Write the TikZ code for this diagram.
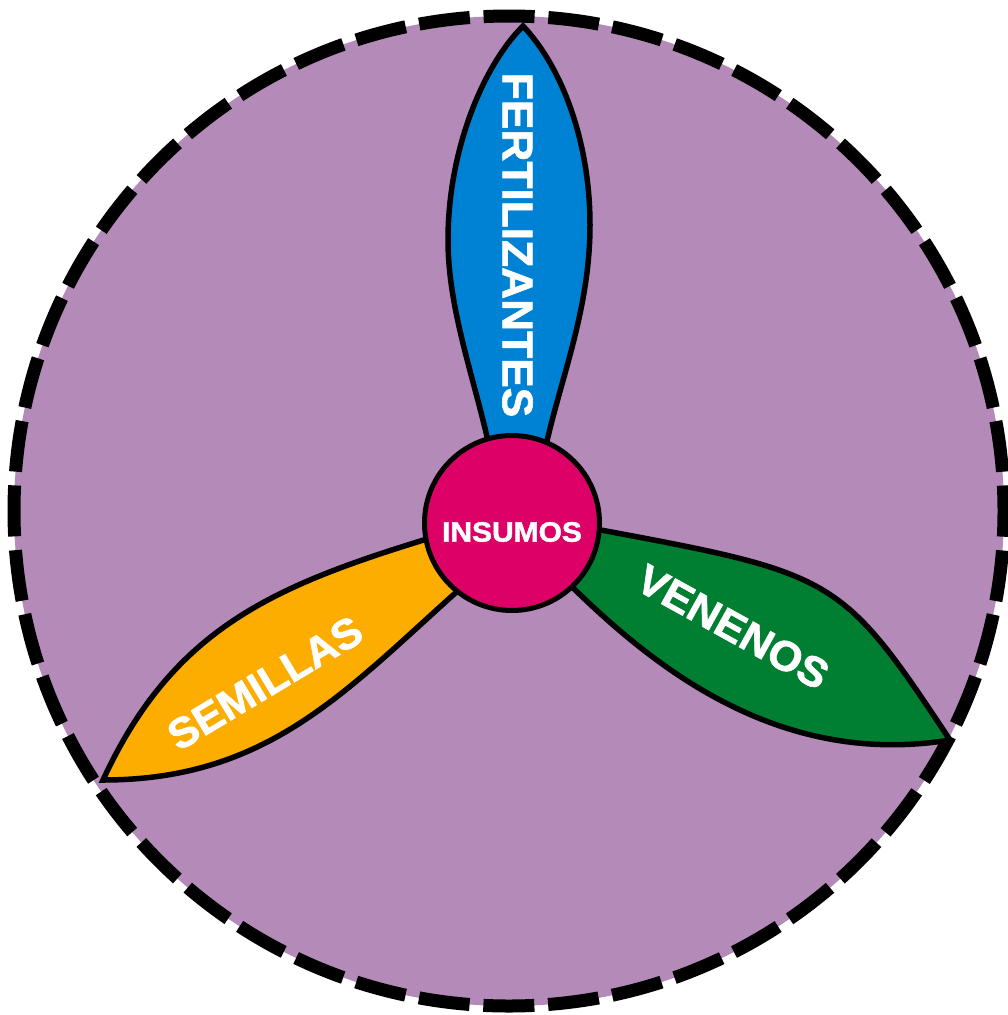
\documentclass[tikz,border=0pt]{standalone}
\usepackage{fontspec}
\setmainfont{Liberation Sans}
\newfontfamily\heavyfont{Liberation Sans}[BoldFeatures={FakeBold=1.5}]
\definecolor{bgpurple}{RGB}{180,139,184}
\definecolor{petalblue}{RGB}{0,130,212}
\definecolor{petalgreen}{RGB}{0,127,51}
\definecolor{petalorange}{RGB}{253,172,0}
\definecolor{hubmagenta}{RGB}{221,0,103}
\begin{document}
\begin{tikzpicture}[x=1pt,y=-1pt,
  petal/.style={draw=black, line width=5.5pt},
  lbl/.style={text=white, inner sep=0pt, font=\fontsize{42}{42}\selectfont\heavyfont\bfseries},
]
\useasboundingbox (0,0) rectangle (1008,1015);

% background disc with dashed rim
\fill[bgpurple] (509,511) circle[radius=495pt];
\draw[line width=13pt, dash pattern=on 51pt off 13.8pt, dash phase=25.5pt]
  (509,511) circle[radius=495pt];

% petals
\filldraw[petal, fill=petalblue]
  (490,450) .. controls (475,380) and (448,310) .. (448,240)
  .. controls (448,150) and (483,66) .. (523,26)
  .. controls (561,66) and (590,140) .. (590,225)
  .. controls (590,310) and (560,380) .. (545,450) -- cycle;
\filldraw[petal, fill=petalgreen]
  (590,528) .. controls (835.8,573.8) and (840,574) .. (950,740)
  .. controls (772.3,768.8) and (644.8,659.8) .. (560,575) -- cycle;
\filldraw[petal, fill=petalorange]
  (440,535) .. controls (277.3,584.3) and (174.4,625.3) .. (103,780)
  .. controls (273,780) and (350,685.6) .. (470,580) -- cycle;

% hub
\node[circle, draw=black, line width=5pt, fill=hubmagenta,
      minimum size=175pt, inner sep=0pt] (hub) at (512,523) {};
\node[lbl, font=\fontsize{28}{28}\selectfont\heavyfont\bfseries] (insumos) at (512,532)
  {\scalebox{1.07}[1]{INSUMOS}};

% petal labels
\node[lbl, font=\fontsize{43}{43}\selectfont\heavyfont\bfseries, rotate=-90] (fert) at (517.5,245)
  {\scalebox{1.03}[1]{FERTILIZANTES}};
\node[lbl, rotate=-29] (ven) at (733,627) {\scalebox{1.03}[1]{VENENOS}};
\node[lbl, rotate=31] (sem) at (265,683) {\scalebox{1.03}[1]{SEMILLAS}};
\end{tikzpicture}
\end{document}
